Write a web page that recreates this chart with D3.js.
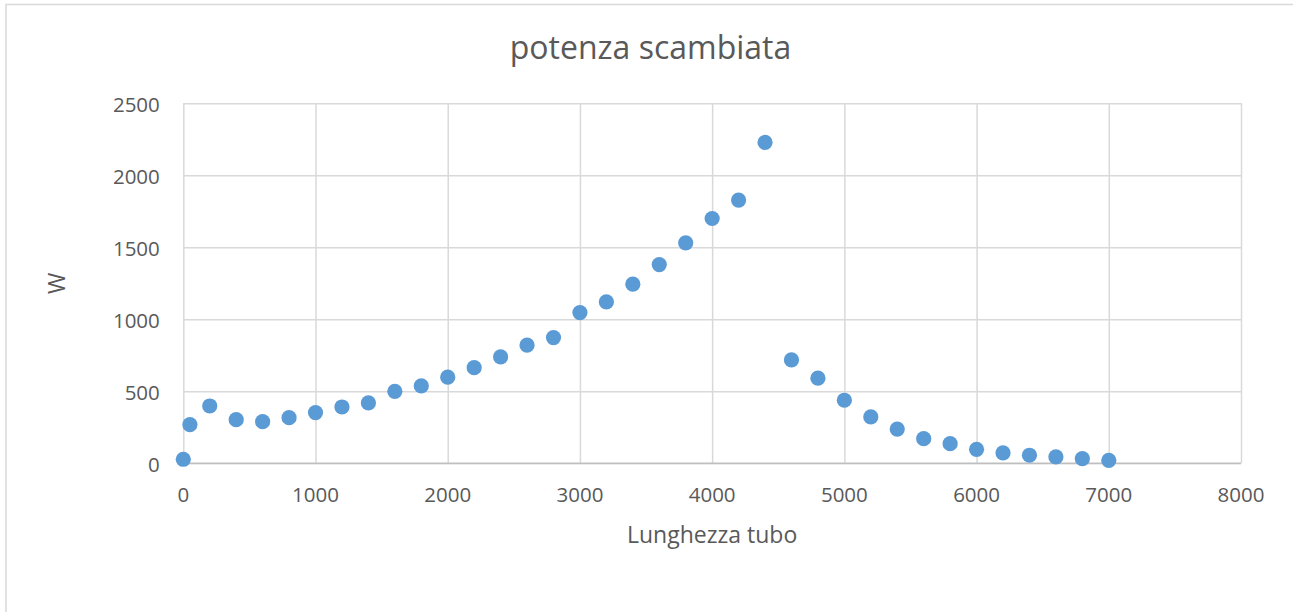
<!DOCTYPE html>
<html>
<head>
<meta charset="utf-8">
<script src="https://cdn.jsdelivr.net/npm/d3@7"></script>
<style>
  body { margin: 0; background: #ffffff; }
  svg { display: block; font-family: "Open Sans", sans-serif; }
  .grid line { stroke: #d9d9d9; stroke-width: 1.5; }
  .grid path { display: none; }
</style>
</head>
<body>
<div id="chart"></div>
<script>
// dati
const lunghezza = [0, 50, 200, 400, 600, 800, 1000, 1200, 1400, 1600, 1800, 2000, 2200, 2400,
  2600, 2800, 3000, 3200, 3400, 3600, 3800, 4000, 4200, 4400, 4600, 4800, 5000, 5200, 5400,
  5600, 5800, 6000, 6200, 6400, 6600, 6800, 7000];
const potenza = [28, 268, 398, 303, 289, 317, 352, 391, 419, 500, 537, 598, 664, 739,
  820, 873, 1047, 1121, 1244, 1380, 1531, 1700, 1828, 2228, 718, 591, 438, 322, 238,
  171, 136, 97, 72, 56, 44, 32, 21];
const xTicks = [0, 1000, 2000, 3000, 4000, 5000, 6000, 7000, 8000];
const yTicks = [0, 500, 1000, 1500, 2000, 2500];

const W = 1293, H = 612;
const margin = { top: 103.3, right: 52, bottom: 148.7, left: 183.3 };
const width = W - margin.left - margin.right;
const height = H - margin.top - margin.bottom;

const root = d3.select("#chart").append("svg")
  .attr("width", W)
  .attr("height", H);

// bordo del grafico
root.append("rect")
  .attr("x", 6)
  .attr("y", 4.5)
  .attr("width", W + 10)
  .attr("height", H + 10)
  .attr("fill", "none")
  .attr("stroke", "#d9d9d9")
  .attr("stroke-width", 1.5);

root.append("text")
  .attr("x", 650.5)
  .attr("y", 59)
  .attr("text-anchor", "middle")
  .style("font-size", "32px")
  .style("fill", "#595959")
  .text("potenza scambiata");

const svg = root.append("g")
  .attr("transform", `translate(${margin.left},${margin.top})`);

const x = d3.scaleLinear().domain([0, 8000]).range([0, width]);
const y = d3.scaleLinear().domain([0, 2500]).range([height, 0]);

// griglia
svg.append("g")
  .attr("class", "grid")
  .call(d3.axisBottom(x).tickValues(xTicks).tickSize(height).tickFormat(""));

svg.append("g")
  .attr("class", "grid")
  .call(d3.axisLeft(y).tickValues(yTicks).tickSize(-width).tickFormat(""));

// asse orizzontale
svg.append("line")
  .attr("x1", 0)
  .attr("x2", width)
  .attr("y1", height)
  .attr("y2", height)
  .attr("stroke", "#bfbfbf")
  .attr("stroke-width", 1.5);

// etichette
svg.append("g")
  .selectAll("text")
  .data(xTicks)
  .join("text")
  .attr("x", d => x(d))
  .attr("y", height + 39)
  .attr("text-anchor", "middle")
  .style("font-size", "20.5px")
  .style("fill", "#595959")
  .text(d => d);

svg.append("g")
  .selectAll("text")
  .data(yTicks)
  .join("text")
  .attr("x", -23.5)
  .attr("y", d => y(d) + 9)
  .attr("text-anchor", "end")
  .style("font-size", "20.5px")
  .style("fill", "#595959")
  .text(d => d);

svg.append("text")
  .attr("x", width / 2)
  .attr("y", 543.3 - margin.top)
  .attr("text-anchor", "middle")
  .style("font-size", "23px")
  .style("fill", "#595959")
  .text("Lunghezza tubo");

svg.append("text")
  .attr("transform", `translate(${65 - margin.left},${height / 2}) rotate(-90)`)
  .attr("text-anchor", "middle")
  .style("font-size", "23px")
  .style("fill", "#595959")
  .text("W");

// punti
svg.append("g")
  .selectAll("circle")
  .data(lunghezza.map((d, i) => ({ l: d, p: potenza[i] })))
  .join("circle")
  .attr("cx", d => x(d.l))
  .attr("cy", d => y(d.p))
  .attr("r", 7.6)
  .attr("fill", "#5b9bd5");
</script>
</body>
</html>
